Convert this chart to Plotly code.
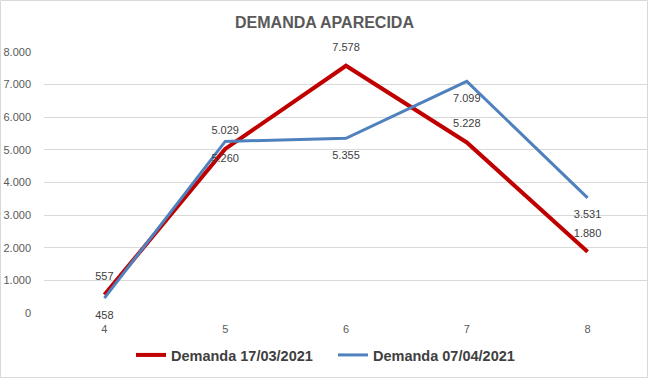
import plotly.graph_objects as go

categories = ["4", "5", "6", "7", "8"]
demanda_1703 = [557, 5029, 7578, 5228, 1880]
demanda_0704 = [458, 5260, 5355, 7099, 3531]
series_names = ["Demanda 17/03/2021", "Demanda 07/04/2021"]
title_text = "DEMANDA APARECIDA"

def fmt(v):
    return f"{v:,}".replace(",", ".")

W, H = 649, 379
ML, MR, MT, MB = 44, 1, 52, 66
pw = W - ML - MR
ph = H - MT - MB

fig = go.Figure()
fig.add_trace(go.Scatter(
    x=categories, y=demanda_1703, name="<b>" + series_names[0] + "</b>",
    mode="lines+markers+text",
    line=dict(color="#C00000", width=4),
    marker=dict(size=18, color="rgba(0,0,0,0)"),
    text=[fmt(v) for v in demanda_1703], textposition="top center",
    textfont=dict(family="Liberation Sans", size=11, color="#404040"),
    cliponaxis=False,
))
fig.add_trace(go.Scatter(
    x=categories, y=demanda_0704, name="<b>" + series_names[1] + "</b>",
    mode="lines+markers+text",
    line=dict(color="#4F81BD", width=3),
    marker=dict(size=18, color="rgba(0,0,0,0)"),
    text=[fmt(v) for v in demanda_0704], textposition="bottom center",
    textfont=dict(family="Liberation Sans", size=11, color="#404040"),
    cliponaxis=False,
))

fig.update_layout(
    width=W, height=H,
    margin=dict(l=ML, r=MR, t=MT, b=MB),
    paper_bgcolor="white", plot_bgcolor="white",
    separators=",.",
    title=dict(text="<b>" + title_text + "</b>", x=0.5, xanchor="center",
               y=1 - 22 / H, yanchor="middle",
               font=dict(family="Liberation Sans", size=16, color="#595959")),
    font=dict(family="Liberation Sans", size=11, color="#595959"),
    showlegend=True,
    legend=dict(orientation="h", x=0.5 - 13 / pw, xanchor="center", y=-(355 - 313) / ph,
                yanchor="middle", font=dict(size=14.5, color="#404040"),
                itemwidth=30, entrywidth=157, entrywidthmode="pixels"),
    xaxis=dict(type="category", range=[-0.5, 4.5], showgrid=False, zeroline=False,
               showline=False, ticks="", ticklabelstandoff=8,
               tickfont=dict(size=11, color="#595959")),
    yaxis=dict(range=[0, 8000], dtick=1000, tickformat=",.0f", showgrid=True,
               gridcolor="#D9D9D9", gridwidth=1, zeroline=False, showline=False,
               ticks="", ticklabelstandoff=12,
               tickfont=dict(size=11, color="#595959")),
)

fig.add_shape(type="rect", xref="paper", yref="paper",
              x0=-(ML - 0.5) / pw, x1=1 + (MR - 1.5) / pw,
              y0=-(MB - 1.5) / ph, y1=1 + (MT - 0.5) / ph,
              line=dict(color="#D9D9D9", width=1), layer="below")

fig.write_html("out.html", config={"displayModeBar": False},
               post_script="document.body.style.margin='0';")
